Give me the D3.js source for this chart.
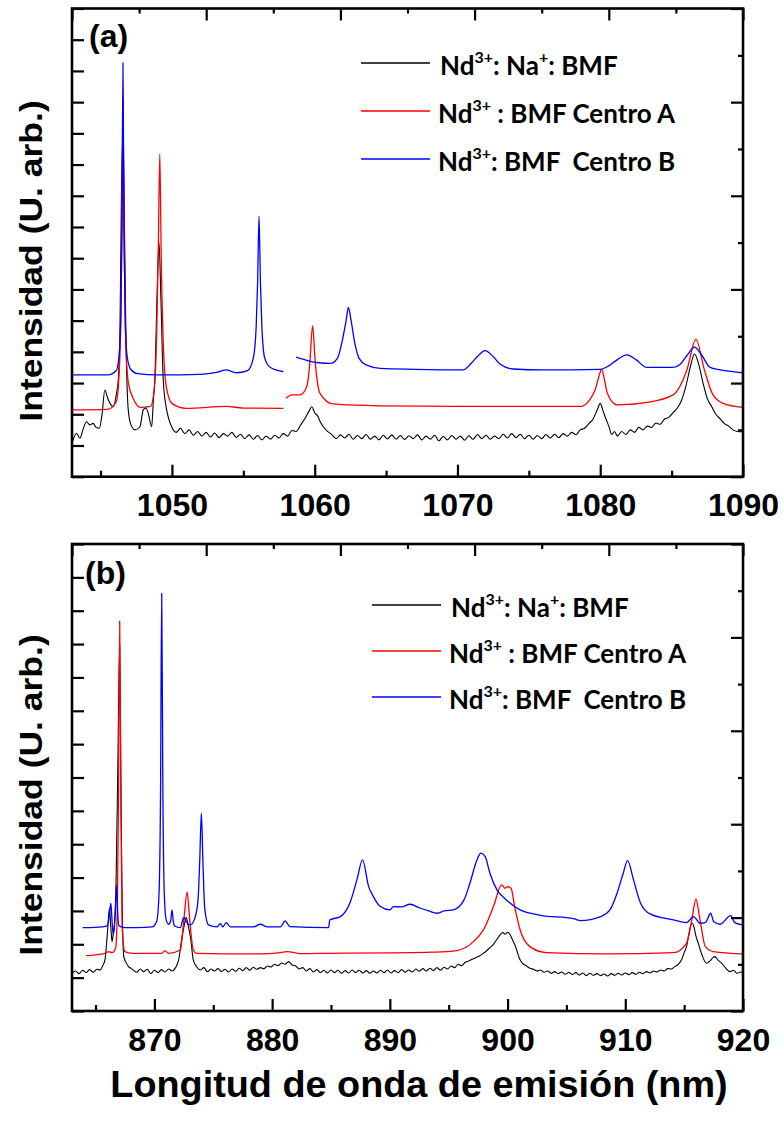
<!DOCTYPE html>
<html>
<head>
<meta charset="utf-8">
<script src="https://cdn.jsdelivr.net/npm/d3@7"></script>
<style>
  body { margin: 0; background: #fff; }
  svg text { font-family: "Liberation Sans", Arial, sans-serif; font-weight: bold; fill: #000; }
  svg text.leg { font-family: Lato, "Open Sans", sans-serif; white-space: pre; }
</style>
</head>
<body>
<svg id="chart"></svg>
<script>
// ---- data (wavelength nm, intensity in left-tick units) ----
const xTicksA = [1050, 1060, 1070, 1080, 1090];
const xMinorA = [1045, 1055, 1065, 1075, 1085];
const xTicksB = [870, 880, 890, 900, 910, 920];
const xMinorB = [865, 875, 885, 895, 905, 915];

const legendNames = ["Na", "BMF Centro A", "BMF  Centro B"];

// panel (a)
const aBlack = [[1043.0,1.07],[1043.32,1.39],[1043.55,1.23],[1043.76,1.5],[1044.02,1.76],[1044.25,1.66],[1044.48,1.71],[1044.67,1.59],[1044.91,1.55],[1045.1,1.98],[1045.3,2.78],[1045.5,2.52],[1045.66,2.35],[1045.89,2.24],[1046.1,2.62],[1046.24,3.1],[1046.36,4.7],[1046.46,8.9],[1046.57,11.0],[1046.67,8.2],[1046.78,4.4],[1046.94,2.14],[1047.13,1.66],[1047.41,1.5],[1047.76,1.6],[1047.99,2.14],[1048.18,2.2],[1048.34,2.03],[1048.58,1.6],[1048.7,2.46],[1048.8,3.1],[1048.95,5.66],[1049.09,7.53],[1049.23,5.66],[1049.39,3.1],[1049.63,2.14],[1049.8,1.82],[1049.98,1.6],
  [1050.3,1.42],[1050.6,1.55],[1050.9,1.38],[1051.2,1.5],[1051.5,1.33],[1051.8,1.45],[1052.1,1.3],[1052.4,1.42],[1052.7,1.27],[1053.0,1.4],[1053.3,1.25],[1053.6,1.38],[1053.9,1.3],[1054.2,1.42],[1054.5,1.26],[1054.8,1.36],[1055.1,1.22],[1055.4,1.34],[1055.7,1.2],[1056.0,1.32],[1056.3,1.18],[1056.6,1.3],[1056.9,1.2],[1057.2,1.33],[1057.5,1.24],[1057.8,1.38],[1058.1,1.3],[1058.4,1.48],[1058.7,1.45],[1059.0,1.65],[1059.3,1.85],[1059.6,2.1],[1059.8,2.24],[1060.0,2.05],[1060.2,1.95],[1060.4,1.75],[1060.6,1.6],[1060.9,1.45],[1061.2,1.35],
  [1061.5,1.22],[1061.8,1.34],[1062.1,1.24],[1062.4,1.36],[1062.7,1.2],[1063.0,1.32],[1063.3,1.22],[1063.6,1.35],[1063.9,1.2],[1064.2,1.3],[1064.5,1.18],[1064.8,1.33],[1065.1,1.21],[1065.4,1.34],[1065.7,1.2],[1066.0,1.32],[1066.3,1.19],[1066.6,1.31],[1066.9,1.22],[1067.2,1.34],[1067.5,1.18],[1067.8,1.3],[1068.1,1.2],[1068.4,1.33],[1068.7,1.15],[1069.0,1.29],[1069.3,1.18],[1069.6,1.32],[1069.9,1.2],[1070.2,1.3],[1070.5,1.17],[1070.8,1.31],[1071.1,1.2],[1071.4,1.35],[1071.7,1.22],[1072.0,1.33],[1072.3,1.2],[1072.6,1.3],[1072.9,1.22],[1073.2,1.36],[1073.5,1.24],[1073.8,1.38],[1074.1,1.25],[1074.4,1.36],[1074.7,1.22],[1075.0,1.33],[1075.3,1.2],[1075.6,1.32],[1075.9,1.22],[1076.2,1.35],[1076.5,1.24],[1076.8,1.36],[1077.1,1.25],[1077.4,1.38],[1077.7,1.3],[1078.0,1.42],[1078.3,1.35],[1078.6,1.5],[1078.9,1.55],[1079.2,1.7],[1079.5,1.85],[1079.8,2.15],[1080.0,2.35],[1080.2,2.1],[1080.4,1.85],[1080.6,1.62],[1080.8,1.35],[1081.0,1.45],[1081.2,1.3],[1081.5,1.45],[1081.8,1.35],[1082.1,1.5],[1082.4,1.42],[1082.7,1.58],[1083.0,1.5],[1083.3,1.62],[1083.6,1.58],[1083.9,1.72],[1084.2,1.68],[1084.5,1.85],[1084.8,1.9],[1085.1,2.05],[1085.4,2.2],[1085.7,2.45],[1086.0,2.9],[1086.3,3.5],[1086.6,3.93],[1086.9,3.6],[1087.2,3.0],[1087.5,2.5],[1087.8,2.25],[1088.1,2.0],[1088.4,1.85],[1088.7,1.7],[1089.0,1.62],[1089.3,1.5],[1089.6,1.45],[1090.0,1.44]];

const aRed = [[1043.0,2.14],[1045.5,2.16],[1046.1,2.4],[1046.3,3.3],[1046.42,5.0],[1046.5,8.0],[1046.57,12.13],[1046.65,7.5],[1046.75,4.5],[1046.95,3.0],[1047.3,2.5],[1047.8,2.22],[1048.5,2.25],[1048.8,3.0],[1048.95,5.0],[1049.05,7.5],[1049.15,10.34],[1049.25,7.0],[1049.4,4.2],[1049.6,2.9],[1050.0,2.35],[1051.0,2.19],[1053.8,2.25],[1055.0,2.2],[1057.8,2.19],
  null,
  [1058.0,2.51],[1058.4,2.62],[1058.97,2.62],[1059.44,2.88],[1059.65,3.6],[1059.85,4.83],[1060.05,3.6],[1060.37,2.67],[1061.28,2.33],[1064.6,2.27],[1070.0,2.25],[1078.6,2.25],[1079.64,2.78],[1079.9,3.2],[1080.1,3.44],[1080.3,3.1],[1080.5,2.67],[1081.16,2.3],[1083.3,2.38],[1085.1,2.62],[1086.07,3.42],[1086.7,4.4],[1087.3,3.42],[1087.9,2.62],[1088.6,2.35],[1090.0,2.22]];

const aBlue = [[1043.0,3.26],[1045.5,3.26],[1046.1,3.4],[1046.3,3.9],[1046.42,5.2],[1046.5,8.0],[1046.57,13.26],[1046.64,8.0],[1046.72,5.2],[1046.85,3.9],[1047.1,3.45],[1047.6,3.3],[1049.0,3.26],[1052.0,3.28],[1053.2,3.35],[1053.8,3.42],[1054.5,3.33],[1055.3,3.4],[1055.7,3.8],[1055.9,4.8],[1056.0,6.2],[1056.1,8.35],[1056.2,6.2],[1056.3,4.8],[1056.5,3.8],[1056.9,3.5],[1057.8,3.37],
  null,
  [1058.7,3.83],[1059.5,3.72],[1060.3,3.65],[1061.1,3.63],[1061.6,3.8],[1061.95,4.4],[1062.2,5.0],[1062.36,5.42],[1062.55,5.0],[1062.8,4.3],[1063.1,3.8],[1063.6,3.58],[1064.6,3.47],[1067.0,3.44],[1070.4,3.42],[1070.9,3.6],[1071.4,3.85],[1071.93,4.04],[1072.5,3.85],[1073.0,3.6],[1073.9,3.45],[1076.0,3.42],[1080.0,3.44],[1080.6,3.55],[1081.2,3.75],[1081.87,3.9],[1082.5,3.75],[1083.27,3.5],[1085.1,3.5],[1085.6,3.6],[1086.1,3.9],[1086.6,4.15],[1087.1,3.9],[1087.7,3.5],[1089.0,3.38],[1090.0,3.33]];

// panel (b)
const bBlack = [[863.0,1.13],[863.3,1.2],[863.6,1.12],[863.9,1.22],[864.2,1.15],[864.5,1.24],[864.8,1.16],[865.1,1.25],[865.4,1.23],[865.6,1.35],[865.8,1.53],[866.0,2.3],[866.18,3.08],[866.3,2.5],[866.4,2.08],[866.5,2.3],[866.6,2.53],[866.75,4.0],[866.9,7.5],[867.05,11.0],[867.15,7.0],[867.25,3.5],[867.4,1.63],[867.6,1.45],[867.8,1.33],[868.0,1.28],[868.2,1.23],[868.5,1.16],[868.8,1.26],[869.1,1.18],[869.4,1.25],[869.7,1.12],[870.0,1.22],[870.3,1.15],[870.6,1.24],[870.9,1.17],[871.2,1.26],[871.5,1.2],[871.8,1.3],[872.06,1.53],[872.35,2.23],[872.55,2.6],[872.7,2.8],[872.85,2.6],[873.1,2.13],[873.3,1.53],[873.6,1.32],[873.9,1.23],[874.2,1.3],[874.5,1.18],[874.8,1.26],[875.1,1.2],[875.4,1.27],[875.7,1.18],[876.0,1.25],[876.3,1.17],[876.6,1.26],[876.9,1.19],[877.2,1.28],[877.5,1.21],[877.8,1.3],[878.1,1.22],[878.4,1.31],[878.7,1.25],[879.0,1.3],[879.3,1.27],[879.6,1.35],[879.9,1.32],[880.2,1.4],[880.5,1.36],[880.8,1.44],[881.1,1.4],[881.4,1.48],[881.7,1.38],[882.0,1.35],[882.3,1.26],[882.6,1.3],[882.9,1.2],[883.2,1.27],[883.5,1.17],[883.8,1.24],[884.1,1.15],[884.4,1.22],[884.7,1.14],[885.0,1.23],[885.3,1.15],[885.6,1.22],[885.9,1.13],[886.2,1.21],[886.5,1.14],[886.8,1.23],[887.1,1.15],[887.4,1.22],[887.7,1.14],[888.0,1.21],[888.3,1.13],[888.6,1.2],[888.9,1.14],[889.2,1.22],[889.5,1.15],[889.8,1.23],[890.1,1.14],[890.4,1.21],[890.7,1.15],[891.0,1.24],[891.3,1.16],[891.6,1.23],[891.9,1.17],[892.2,1.26],[892.5,1.19],[892.8,1.27],[893.1,1.2],[893.4,1.28],[893.7,1.21],[894.0,1.3],[894.3,1.22],[894.6,1.31],[894.9,1.26],[895.2,1.35],[895.5,1.3],[895.8,1.4],[896.1,1.36],[896.4,1.46],[896.7,1.5],[897.0,1.55],[897.3,1.6],[897.6,1.65],[897.9,1.72],[898.2,1.8],[898.5,1.9],[898.8,2.0],[899.1,2.15],[899.4,2.3],[899.6,2.35],[899.8,2.3],[900.0,2.36],[900.2,2.3],[900.4,2.15],[900.6,2.0],[900.8,1.8],[901.0,1.58],[901.3,1.42],[901.6,1.35],[901.9,1.28],[902.2,1.25],[902.5,1.2],[902.8,1.23],[903.1,1.16],[903.4,1.2],[903.7,1.13],[904.0,1.18],[904.3,1.12],[904.6,1.17],[904.9,1.1],[905.2,1.16],[905.5,1.09],[905.8,1.15],[906.1,1.08],[906.4,1.14],[906.7,1.06],[907.0,1.13],[907.3,1.07],[907.6,1.12],[907.9,1.06],[908.2,1.11],[908.5,1.05],[908.8,1.12],[909.1,1.07],[909.4,1.13],[909.7,1.08],[910.0,1.14],[910.3,1.09],[910.6,1.15],[910.9,1.1],[911.2,1.16],[911.5,1.12],[911.8,1.18],[912.1,1.14],[912.4,1.2],[912.7,1.17],[913.0,1.23],[913.3,1.2],[913.6,1.27],[913.9,1.26],[914.2,1.33],[914.5,1.4],[914.8,1.55],[915.0,1.75],[915.2,1.93],[915.4,2.3],[915.55,2.55],[915.7,2.63],[915.85,2.5],[916.0,2.25],[916.2,2.03],[916.5,1.7],[916.9,1.43],[917.2,1.5],[917.45,1.6],[917.6,1.63],[917.9,1.52],[918.2,1.43],[918.5,1.3],[918.9,1.18],[919.2,1.22],[919.5,1.13],[919.8,1.17],[920.0,1.13]];

const bRed = [[864.2,1.66],[865.8,1.73],[866.1,1.78],[866.4,1.75],[866.7,1.88],[866.85,3.0],[866.95,6.5],[867.05,11.69],[867.15,6.5],[867.26,2.5],[867.5,1.78],[868.1,1.73],[870.6,1.73],[870.9,1.8],[871.2,1.73],[872.2,1.83],[872.5,2.73],[872.78,3.56],[873.0,2.73],[873.3,1.83],[873.6,1.73],[879.0,1.71],[880.5,1.74],[881.3,1.78],[882.4,1.72],[885.1,1.73],[890.3,1.74],[893.15,1.76],[894.3,1.77],[895.7,1.81],[897.1,2.08],[897.95,2.43],[898.8,3.13],[899.5,3.78],[899.8,3.68],[900.0,3.73],[900.3,3.68],[900.6,3.13],[901.07,2.43],[901.9,1.93],[903.3,1.75],[908.4,1.71],[914.1,1.75],[915.2,2.03],[915.65,2.73],[916.0,3.35],[916.35,2.73],[916.8,1.93],[917.5,1.78],[920.0,1.71]];

const bBlue = [[863.9,2.5],[864.5,2.5],[865.5,2.52],[866.0,2.55],[866.15,2.8],[866.3,3.23],[866.42,2.6],[866.5,2.3],[866.6,2.55],[866.7,3.1],[866.8,3.78],[866.9,2.8],[867.0,2.55],[867.5,2.5],[868.5,2.5],[869.8,2.52],[870.2,2.7],[870.4,3.6],[870.52,6.5],[870.62,12.52],[870.72,6.5],[870.85,3.4],[871.0,2.73],[871.2,2.6],[871.38,2.7],[871.5,3.03],[871.6,2.7],[871.72,2.55],[872.2,2.5],[872.45,2.78],[872.55,2.8],[872.7,2.68],[873.05,2.58],[873.45,2.8],[873.7,3.3],[873.85,4.5],[873.99,5.93],[874.12,4.5],[874.27,3.1],[874.6,2.58],[875.3,2.52],[875.6,2.62],[875.8,2.52],[876.1,2.65],[876.45,2.52],[878.4,2.52],[879.0,2.6],[879.6,2.52],[880.7,2.52],[881.1,2.7],[881.5,2.53],[884.8,2.5],[884.9,2.73],[885.8,2.83],[886.6,3.23],[887.2,3.93],[887.68,4.53],[888.2,3.73],[888.6,3.43],[889.2,3.13],[890.0,3.03],[890.3,3.13],[891.0,3.12],[891.7,3.2],[892.6,3.08],[893.3,3.0],[894.0,2.93],[894.6,3.0],[895.4,3.03],[896.3,3.33],[896.8,3.83],[897.4,4.53],[897.73,4.73],[898.1,4.63],[898.5,4.13],[899.1,3.63],[899.9,3.33],[901.07,3.03],[902.8,2.87],[905.6,2.77],[906.2,2.71],[907.9,2.83],[908.7,3.03],[909.3,3.53],[909.8,4.1],[910.2,4.51],[910.7,3.93],[911.3,3.23],[912.1,2.91],[914.1,2.73],[915.2,2.65],[915.8,2.83],[916.35,2.63],[916.8,2.65],[917.26,2.93],[917.5,2.68],[918.05,2.6],[918.96,2.86],[919.3,2.65],[920.0,2.58]];

const colors = ["#000000", "#ff0000", "#0000ff"];

const width = 784, height = 1129;

const svg = d3.select('#chart')
    .attr('width', width)
    .attr('height', height);

const panels = [
  { label: '(a)', left: 72, right: 743, top: 8.5, bottom: 476.7, xDomain: [1043, 1090], yMax: 15,
    ticks: xTicksA, minor: xMinorA, series: [aBlack, aRed, aBlue],
    labelPos: [89, 47], legendPos: [361, 63], legendGap: 48, titleY: 261 },
  { label: '(b)', left: 72, right: 743, top: 544, bottom: 1011, xDomain: [863, 920], yMax: 14,
    ticks: xTicksB, minor: xMinorB, series: [bBlack, bRed, bBlue],
    labelPos: [85, 584], legendPos: [372, 605], legendGap: 46, titleY: 795 }
];

panels.forEach((p, i) => {
  const x = d3.scaleLinear().domain(p.xDomain).range([p.left, p.right]);
  const y = d3.scaleLinear().domain([0, p.yMax]).range([p.bottom, p.top]);
  // top / right axes use their own 10-step scales
  const xTop = d3.scaleLinear().domain([0, 10]).range([p.left, p.right]);
  const yRight = d3.scaleLinear().domain([0, 10]).range([p.bottom, p.top]);

  const g = svg.append('g');

  const clipId = 'clip' + i;
  svg.append('clipPath').attr('id', clipId)
    .append('rect')
    .attr('x', p.left).attr('y', p.top)
    .attr('width', p.right - p.left).attr('height', p.bottom - p.top);

  const line = d3.line()
      .defined(d => d !== null)
      .x(d => x(d[0]))
      .y(d => y(d[1]))
      .curve(d3.curveMonotoneX);

  g.append('g').attr('clip-path', `url(#${clipId})`)
    .selectAll('path')
    .data(p.series)
    .join('path')
      .attr('d', line)
      .attr('fill', 'none')
      .attr('stroke', (d, k) => colors[k])
      .attr('stroke-width', (d, k) => k === 0 ? 1.1 : 1.3)
      .attr('stroke-linejoin', 'round');

  // bottom axis: minor + labelled major ticks, pointing inward
  const bottomMinor = g.append('g')
      .attr('transform', `translate(0,${p.bottom})`)
      .call(d3.axisBottom(x).tickValues(p.minor).tickSize(-6).tickFormat(''));
  const bottomMajor = g.append('g')
      .attr('transform', `translate(0,${p.bottom})`)
      .call(d3.axisBottom(x).tickValues(p.ticks).tickSize(-12).tickPadding(17).tickFormat(d3.format('d')));
  bottomMajor.selectAll('text')
      .attr('font-size', 32)
      .attr('dy', '0.71em');

  const yTicks = d3.range(0, p.yMax + 1);
  const leftAx = g.append('g')
      .attr('transform', `translate(${p.left},0)`)
      .call(d3.axisLeft(y).tickValues(yTicks).tickSize(-12).tickFormat(''));

  const tenSteps = d3.range(0, 11);
  const topAx = g.append('g')
      .attr('transform', `translate(0,${p.top})`)
      .call(d3.axisTop(xTop).tickValues(tenSteps).tickSize(-12).tickFormat(''));
  topAx.selectAll('.tick line').attr('y2', d => d % 2 === 0 ? 12 : 5);

  const rightAx = g.append('g')
      .attr('transform', `translate(${p.right},0)`)
      .call(d3.axisRight(yRight).tickValues(tenSteps).tickSize(-12).tickFormat(''));
  rightAx.selectAll('.tick line').attr('x2', d => d % 2 === 0 ? -12 : -5);

  [bottomMinor, bottomMajor, leftAx, topAx, rightAx].forEach(ax => {
    ax.select('.domain').remove();
    ax.selectAll('.tick line').attr('stroke', '#000').attr('stroke-width', 2.2);
    ax.selectAll('text').attr('font-family', null);
  });

  g.append('rect')
      .attr('x', p.left).attr('y', p.top)
      .attr('width', p.right - p.left).attr('height', p.bottom - p.top)
      .attr('fill', 'none')
      .attr('stroke', '#000')
      .attr('stroke-width', 2.6);

  g.append('text')
      .attr('x', p.labelPos[0]).attr('y', p.labelPos[1])
      .attr('font-size', 32)
      .text(p.label);

  g.append('text')
      .attr('transform', `translate(42,${p.titleY}) scale(0.9,1) rotate(-90)`)
      .attr('text-anchor', 'middle')
      .attr('font-size', 35.5)
      .text('Intensidad (U. arb.)');

  // legend
  const leg = g.append('g');
  legendNames.forEach((name, k) => {
    const ly = p.legendPos[1] + k * p.legendGap;
    leg.append('path')
      .attr('d', `M${p.legendPos[0]},${ly}H${p.legendPos[0] + 69}`)
      .attr('fill', 'none')
      .style('stroke', colors[k])
      .style('stroke-width', 1.6);
    const t = leg.append('text')
      .attr('class', 'leg')
      .attr('x', p.legendPos[0] + 79 - (k ? 2 : 0))
      .attr('y', ly + 12)
      .attr('font-size', 26);
    t.append('tspan').text('Nd');
    t.append('tspan').attr('dy', -12).attr('font-size', 16).text('3+');
    if (k === 0) {
      t.append('tspan').attr('dy', 12).text(': Na');
      t.append('tspan').attr('dy', -12).attr('font-size', 16).text('+');
      t.append('tspan').attr('dy', 12).text(': BMF');
    } else {
      t.append('tspan').attr('dy', 12).text((k === 1 ? ' : ' : ': ') + name);
    }
  });
});

svg.append('text')
    .attr('x', 419).attr('y', 1097)
    .attr('text-anchor', 'middle')
    .attr('font-size', 37.8)
    .text('Longitud de onda de emisión (nm)');
</script>
</body>
</html>
